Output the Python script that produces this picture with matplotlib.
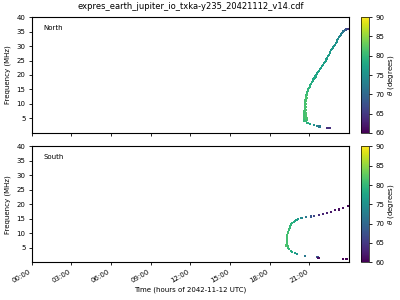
import numpy as np
import matplotlib
matplotlib.use("Agg")
import matplotlib.pyplot as plt

# ===== DATA =====
title = "expres_earth_jupiter_io_txka-y235_20421112_v14.cdf"
tick_hours = [0, 3, 6, 9, 12, 15, 18, 21]
tick_labels = ["00:00", "03:00", "06:00", "09:00", "12:00", "15:00", "18:00", "21:00"]

# North hemisphere: time (h), frequency (MHz), theta (deg)
north_time = [24.0, 23.9, 23.78, 23.7, 23.62, 23.53, 23.45, 23.38, 23.3, 23.22,
              23.15, 23.1, 23.05, 23.0, 22.95, 22.88, 22.8, 22.73, 22.65, 22.58,
              22.52, 22.46, 22.4, 22.34, 22.28, 22.22, 22.15, 22.08, 22.0, 21.94,
              21.87, 21.8, 21.72, 21.65, 21.58, 21.52, 21.45, 21.38, 21.3, 21.24,
              21.17, 21.11, 21.06, 21.01, 20.96, 20.91, 20.87, 20.83, 20.8, 20.77,
              20.74, 20.72, 20.7, 20.69, 20.68, 20.67, 20.66, 20.65, 20.64, 20.63,
              20.62, 20.61, 20.6, 20.6, 20.59, 20.59, 20.6, 20.62,
              20.78, 20.79, 20.77, 20.76, 20.75, 20.74, 20.73, 20.72, 20.73, 20.74,
              20.76, 20.77, 20.78, 20.76,
              20.85, 21.05, 21.35, 21.6, 21.75, 22.35, 22.45, 22.55]
north_freq = [36.0, 35.9, 35.7, 35.5, 35.2, 35.0, 34.5, 34.0, 33.5, 33.0,
              32.5, 32.0, 31.5, 31.0, 30.5, 30.0, 29.5, 29.0, 28.5, 28.0,
              27.5, 27.0, 26.5, 26.0, 25.5, 25.0, 24.5, 24.0, 23.5, 23.0,
              22.5, 22.0, 21.5, 21.0, 20.5, 20.0, 19.5, 19.0, 18.5, 18.0,
              17.5, 17.0, 16.5, 16.0, 15.5, 15.0, 14.5, 14.0, 13.5, 13.0,
              12.5, 12.0, 11.5, 11.0, 10.5, 10.0, 9.5, 9.0, 8.5, 8.0,
              7.5, 7.0, 6.5, 6.0, 5.5, 5.0, 4.5, 4.0,
              13.5, 13.0, 12.0, 11.0, 10.0, 9.0, 8.0, 7.0, 6.5, 6.0,
              5.5, 5.0, 4.5, 4.0,
              3.3, 3.0, 2.6, 2.4, 2.2, 1.6, 1.6, 1.6]
north_theta = [64, 65, 67, 69, 70.5, 71.5, 72.5, 73, 73.5, 74,
               74.5, 75, 75, 75.5, 75.5, 75.5, 76, 76, 76, 76,
               76.5, 76.5, 76.5, 76.5, 76.5, 77, 77, 77, 77, 77,
               77, 77, 77.5, 77.5, 77.5, 77.5, 78, 78, 78, 78,
               78.5, 78.5, 79, 79, 79.5, 79.5, 80, 80, 80.5, 80.5,
               81, 81, 81, 81, 81, 81, 81, 81, 81, 81,
               81, 81, 81, 81, 81, 81, 80.5, 80,
               80.5, 81, 81.5, 81.5, 81.5, 81.5, 81.5, 81.5, 81.5, 81.5,
               81.5, 81.5, 81, 80.5,
               79, 77, 75, 74, 72, 64, 64, 64]

# South hemisphere
south_time = [23.93, 23.55, 23.25, 22.92, 22.6, 22.3, 22.0, 21.7, 21.36, 21.1,
              20.73, 20.4, 20.15, 20.02, 19.9, 19.8, 19.7, 19.62, 19.55,
              19.5, 19.45, 19.42, 19.38, 19.35, 19.32, 19.3, 19.28, 19.28, 19.27,
              19.3, 19.3, 19.32, 19.22, 19.22, 19.35, 19.4, 19.47, 19.58, 19.7,
              19.88, 20.07, 20.66, 21.6, 21.66, 21.72, 23.55, 23.8]
south_freq = [19.5, 18.7, 18.2, 17.9, 17.4, 17.0, 16.6, 16.4, 16.0, 15.8,
              15.5, 15.2, 14.9, 14.6, 14.3, 13.9, 13.5, 13.0, 12.5,
              12.0, 11.5, 11.0, 10.5, 10.0, 9.5, 9.0, 8.5, 8.0, 7.5,
              7.0, 6.5, 6.0, 6.0, 5.5, 5.5, 5.0, 4.5, 4.0, 3.5,
              3.1, 2.7, 2.1, 1.8, 1.5, 1.5, 1.1, 1.1]
south_theta = [60.5, 61, 61, 61.5, 62, 62.5, 63, 64, 66, 68,
               72, 74, 76, 77, 78, 78.5, 79, 79.5, 80,
               80, 80.5, 80.5, 80.5, 81, 81, 81, 81, 81, 81,
               81, 81, 81, 81.5, 81.5, 81, 80.5, 80, 79, 78,
               77, 75, 72, 68, 61, 61, 60, 60]
# ================

plt.rcParams["font.size"] = 5

fig = plt.figure(figsize=(4, 3), dpi=100)
ax_n = fig.add_axes([0.079, 0.557, 0.794, 0.386])
ax_s = fig.add_axes([0.079, 0.126, 0.794, 0.386], sharex=ax_n)
cax_n = fig.add_axes([0.903, 0.557, 0.02, 0.386])
cax_s = fig.add_axes([0.903, 0.126, 0.02, 0.386])

panels = [
    (ax_n, cax_n, north_time, north_freq, north_theta, "North"),
    (ax_s, cax_s, south_time, south_freq, south_theta, "South"),
]

for ax, cax, t, f, th, name in panels:
    sc = ax.scatter(t, f, c=th, cmap="viridis", vmin=60, vmax=90,
                    marker="s", s=2.4, linewidths=0)
    ax.set_xlim(0, 24)
    ax.set_ylim(0, 40)
    ax.set_yticks(range(5, 41, 5))
    ax.set_ylabel("Frequency (MHz)")
    ax.text(0.036, 0.89, name, transform=ax.transAxes)
    cb = fig.colorbar(sc, cax=cax)
    cb.set_ticks(range(60, 91, 5))
    cb.set_label(r"$\theta$ (degrees)", labelpad=1)
    cb.outline.set_linewidth(0.5)
    for sp in ax.spines.values():
        sp.set_linewidth(0.8)
    ax.tick_params(length=2.5, width=0.6, pad=2)
    cax.tick_params(length=2.5, width=0.6, pad=2)

ax_n.set_title(title, fontsize=6)
ax_s.set_xticks(tick_hours)
ax_s.set_xticklabels(tick_labels, rotation=30, ha="right")
ax_s.set_xlabel("Time (hours of 2042-11-12 UTC)", labelpad=2)
plt.setp(ax_n.get_xticklabels(), visible=False)

fig.savefig("out.png", dpi=100)
